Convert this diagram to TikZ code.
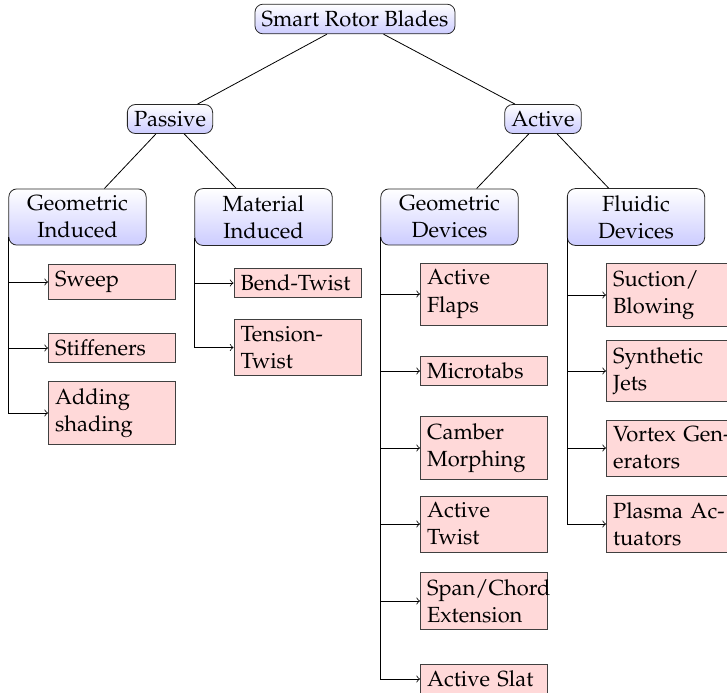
\documentclass[tikz,border=0pt]{standalone}
\usepackage[T1]{fontenc}
\usepackage{mathpazo}

\tikzset{
  catbox/.style={draw=black!85, rounded corners=4pt, top color=white,
    bottom color=blue!20, align=center, inner sep=3.33pt},
  groupbox/.style={catbox, text width=62pt},
  leafbox/.style={draw=black!75, fill=red!15, text width=57pt, align=left,
    inner sep=3.33pt, anchor=west},
  treeline/.style={draw=black},
  branch/.style={draw=black, ->},
}

\begin{document}
\begin{tikzpicture}[x=0.5pt, y=-0.5pt, font=\fontsize{10.95}{13.6}\selectfont]
  \useasboundingbox (0,0) rectangle (727,692);

  % category tree
  \node[catbox] (root) at (355,19) {Smart Rotor Blades};
  \node[catbox] (passive) at (170,119) {Passive};
  \node[catbox] (active) at (543,119) {Active};
  \node[groupbox] (gi) at (77.5,217) {Geometric\\Induced};
  \node[groupbox] (mi) at (263.5,217) {Material\\Induced};
  \node[groupbox] (gd) at (449.5,217) {Geometric\\Devices};
  \node[groupbox] (fd) at (636,217) {Fluidic\\Devices};

  \draw[treeline] (root) -- (passive);
  \draw[treeline] (root) -- (active);
  \draw[treeline] (passive) -- (gi);
  \draw[treeline] (passive) -- (mi);
  \draw[treeline] (active) -- (gd);
  \draw[treeline] (active) -- (fd);

  % passive: geometric induced
  \node[leafbox] (sweep) at (48,282) {Sweep};
  \node[leafbox] (stiff) at (48,348) {Stiffeners};
  \node[leafbox] (shade) at (48,413) {Adding\\shading};

  % passive: material induced
  \node[leafbox] (bend) at (233.5,283) {Bend-Twist};
  \node[leafbox] (tension) at (233.5,347.5) {Tension-\\Twist};

  % active: geometric devices
  \node[leafbox] (flaps) at (420,294) {Active\\Flaps};
  \node[leafbox] (tabs) at (420,371) {Microtabs};
  \node[leafbox] (camber) at (420,448) {Camber\\Morphing};
  \node[leafbox] (twist) at (420,524) {Active\\Twist};
  \node[leafbox] (span) at (420,601) {\mbox{Span/Chord}\\Extension};
  \node[leafbox] (slat) at (420,679) {\mbox{Active Slat}};

  % active: fluidic devices
  \node[leafbox] (suction) at (606,295) {Suction/\\Blowing};
  \node[leafbox] (jets) at (606,371) {Synthetic\\Jets};
  \node[leafbox] (vortex) at (606,448) {\mbox{Vortex Gen-}\\erators};
  \node[leafbox] (plasma) at (606,524) {\mbox{Plasma Ac-}\\tuators};

  % branches to the leaves
  \foreach \p/\c in {gi/sweep, gi/stiff, gi/shade,
                     mi/bend, mi/tension,
                     gd/flaps, gd/tabs, gd/camber, gd/twist, gd/span, gd/slat,
                     fd/suction, fd/jets, fd/vortex, fd/plasma}
    \draw[branch] ([yshift=4pt]\p.south west) |- (\c.west);
\end{tikzpicture}
\end{document}
